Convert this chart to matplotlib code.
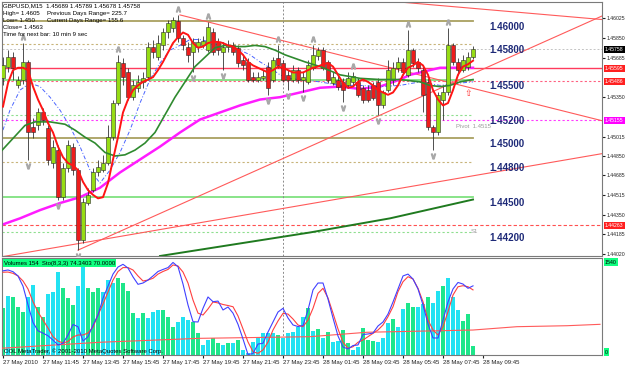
import matplotlib
matplotlib.use("Agg")
import matplotlib.pyplot as plt
import matplotlib.transforms as mtransforms

plt.rcParams['font.family'] = ['Liberation Sans', 'DejaVu Sans']

# ---------------- data ----------------
opens = [1.4551,1.4561,1.4569,1.4545,1.4550,1.4565,1.4510,1.4511,1.4522,1.4509,
         1.4479,1.4490,1.4450,1.4475,1.4493,1.4473,1.4414,1.4445,1.4456,1.4471,
         1.4473,1.4479,1.4501,1.4530,1.4564,1.4556,1.4535,1.4543,1.4548,1.4552,
         1.4578,1.4569,1.4579,1.4590,1.4594,1.4600,1.4585,1.4578,1.4573,1.4578,
         1.4579,1.4575,1.4590,1.4582,1.4573,1.4578,1.4579,1.4577,1.4567,1.4565,
         1.4552,1.4550,1.4551,1.4561,1.4550,1.4568,1.4564,1.4554,1.4550,1.4558,
         1.4550,1.4548,1.4560,1.4570,1.4575,1.4565,1.4547,1.4550,1.4548,1.4545,
         1.4548,1.4548,1.4543,1.4541,1.4545,1.4548,1.4528,1.4541,1.4550,1.4560,
         1.4565,1.4554,1.4575,1.4565,1.4558,1.4548,1.4510,1.4505,1.4533,1.4539,
         1.4579,1.4565,1.4558,1.4561,1.45689]
highs = [1.4569,1.4575,1.4573,1.4553,1.4581,1.4567,1.4517,1.4526,1.4526,1.4511,
         1.4499,1.4494,1.4479,1.4499,1.4496,1.4475,1.4449,1.4458,1.4475,1.4482,
         1.4486,1.4511,1.4533,1.4571,1.4568,1.4560,1.4550,1.4554,1.4556,1.4582,
         1.4584,1.4588,1.4594,1.4601,1.4603,1.4605,1.4588,1.4582,1.4585,1.4585,
         1.4587,1.4599,1.4594,1.4585,1.4582,1.4584,1.4582,1.4579,1.4571,1.4568,
         1.4556,1.4556,1.4558,1.4565,1.4569,1.4579,1.4567,1.4558,1.4562,1.4561,
         1.4556,1.4567,1.4579,1.4578,1.4578,1.4567,1.4556,1.4553,1.4551,1.4556,
         1.4556,1.4551,1.4545,1.4545,1.4548,1.4551,1.4541,1.4567,1.4565,1.4569,
         1.4568,1.4592,1.4577,1.4568,1.4562,1.4551,1.4511,1.4539,1.4545,1.4594,
         1.4581,1.4568,1.4571,1.4573,1.45789]
lows = [1.4545,1.4556,1.4550,1.4543,1.4546,1.4482,1.4500,1.4507,1.4511,1.4477,
        1.4475,1.4448,1.4448,1.4471,1.4469,1.4405,1.4411,1.4443,1.4454,1.4468,
        1.4471,1.4477,1.4499,1.4528,1.4545,1.4533,1.4533,1.4539,1.4543,1.4550,
        1.4568,1.4567,1.4575,1.4585,1.4590,1.4582,1.4575,1.4565,1.4556,1.4573,
        1.4577,1.4573,1.4571,1.4571,1.4558,1.4573,1.4571,1.4561,1.4558,1.4548,
        1.4548,1.4548,1.4550,1.4537,1.4548,1.4560,1.4548,1.4541,1.4548,1.4547,
        1.4539,1.4546,1.4558,1.4567,1.4558,1.4547,1.4545,1.4541,1.4531,1.4543,
        1.4545,1.4535,1.4530,1.4531,1.4533,1.4520,1.4526,1.4539,1.4545,1.4556,
        1.4554,1.4552,1.4561,1.4556,1.4522,1.4507,1.4490,1.4503,1.4516,1.4537,
        1.4562,1.4554,1.4556,1.4558,1.45678]
closes = [1.4562,1.4569,1.4560,1.4550,1.4565,1.4505,1.4505,1.4522,1.4516,1.4482,
          1.4493,1.4450,1.4475,1.4494,1.4473,1.4414,1.4446,1.4452,1.4471,1.4476,
          1.4479,1.4501,1.4530,1.4565,1.4552,1.4535,1.4545,1.4548,1.4551,1.4578,
          1.4573,1.4581,1.4590,1.4598,1.4601,1.4585,1.4579,1.4571,1.4582,1.4582,
          1.4583,1.4595,1.4573,1.4575,1.4578,1.4579,1.4573,1.4564,1.4562,1.4550,
          1.4550,1.4552,1.4553,1.4543,1.4567,1.4562,1.4550,1.4550,1.4558,1.4550,
          1.4552,1.4562,1.4571,1.4575,1.4560,1.4550,1.4552,1.4544,1.4541,1.4551,
          1.4553,1.4537,1.4533,1.4533,1.4534,1.4528,1.4539,1.4558,1.4560,1.4565,
          1.4556,1.4575,1.4564,1.4560,1.4537,1.4510,1.4505,1.4537,1.4539,1.4579,
          1.4565,1.4558,1.4567,1.4569,1.45758]

# fast MA (red), one value per bar
ma_red = [1.4527,1.4547,1.4558,1.4560,1.4560,1.4558,1.4544,1.4533,1.4524,1.4513,
          1.4505,1.4493,1.4484,1.4479,1.4477,1.4473,1.4463,1.4456,1.4452,1.4449,
          1.4450,1.4462,1.4482,1.4501,1.4522,1.4533,1.4541,1.4545,1.4548,1.4550,
          1.4552,1.4558,1.4565,1.4573,1.4581,1.4586,1.4590,1.4588,1.4581,1.4577,
          1.4578,1.4581,1.4582,1.4582,1.4581,1.4579,1.4578,1.4575,1.4571,1.4565,
          1.4562,1.4560,1.4558,1.4556,1.4558,1.4561,1.4560,1.4558,1.4556,1.4556,
          1.4556,1.4558,1.4560,1.4561,1.4563,1.4564,1.4561,1.4554,1.4547,1.4543,
          1.4544,1.4548,1.4550,1.4548,1.4545,1.4541,1.4539,1.4537,1.4539,1.4545,
          1.4554,1.4560,1.4562,1.4565,1.4562,1.4554,1.4541,1.4533,1.4528,1.4530,
          1.4541,1.4554,1.4561,1.4563,1.4566]

ma_green_bars = [-0.6,4.4,6.4,9.4,12.4,14.4,16.4,18.4,20.4,22.4,24.4,26.4,28.4,30.4,
                 32.4,34.4,36.4,38.4,40.4,42.4,44.4,46.4,48.4,50.4,52.4,54.4,56.4,
                 58.4,60.4,63.4,67.4,71.4,75.4,79.4,83.4,85.4,87.4,89.4,91.4,94]
ma_green = [1.4488,1.4511,1.4514,1.4514,1.4512,1.4507,1.4501,1.4496,1.4488,1.4485,
            1.4486,1.4490,1.4496,1.4505,1.4520,1.4535,1.4548,1.4561,1.4569,1.4577,
            1.4579,1.4578,1.4578,1.4579,1.4578,1.4575,1.4571,1.4568,1.4565,1.4561,
            1.4554,1.4551,1.4550,1.4550,1.4548,1.4545,1.4544,1.4545,1.4548,1.4550]

ma_magenta_bars = [-0.6,3.4,7.4,11.4,15.4,19.4,23.4,27.4,31.4,35.4,39.4,43.4,47.4,
                   51.4,55.4,59.4,63.4,67.4,71.4,75.4,77.4,79.4,81.4,83.4,85.4,87.4,
                   91.4,94]
ma_magenta = [1.4426,1.4432,1.4439,1.4445,1.4450,1.4458,1.4471,1.4482,1.4493,1.4505,
              1.4516,1.4522,1.4528,1.4533,1.4535,1.4539,1.4543,1.4544,1.4542,1.4544,
              1.4547,1.4550,1.4554,1.4556,1.4558,1.4560,1.4560,1.4560]

ma_blue_bars = [-0.6,1.4,3.4,5.4,7.4,9.4,11.4,13.4,15.4,17.4,19.4,21.4,23.4,25.4,
                27.4,29.4,31.4,33.4,35.4,37.4,39.4,41.4,43.4,45.4,47.4,49.4,51.4,
                53.4,55.4,57.4,59.4,63.4,67.4,71.4,75.4,79.4,83.4,87.4,91.4,94]
ma_blue = [1.4500,1.4524,1.4541,1.4547,1.4544,1.4535,1.4524,1.4510,1.4493,1.4473,
           1.4462,1.4473,1.4488,1.4507,1.4530,1.4550,1.4564,1.4575,1.4579,1.4584,
           1.4584,1.4582,1.4582,1.4579,1.4575,1.4571,1.4565,1.4560,1.4554,1.4551,
           1.4550,1.4548,1.4545,1.4545,1.4544,1.4545,1.4548,1.4545,1.4547,1.4548]

ma_long_bars = [31.4, 46.4, 61.4, 77.4, 94]
ma_long = [1.4400, 1.4410, 1.4420, 1.4432, 1.4448]

volumes = [775,980,960,800,715,960,1155,800,630,1000,
           1035,1375,1100,935,825,1145,1620,1100,1045,1100,
           1045,1240,1185,1265,1185,1055,690,605,690,605,
           715,745,745,630,465,550,630,580,550,360,
           165,250,275,195,165,195,195,250,80,30,
           220,275,360,360,360,330,275,360,385,465,
           630,770,395,430,285,375,210,230,410,195,
           80,140,440,250,230,210,275,525,595,465,
           760,855,800,800,835,960,855,1055,1130,1265,
           960,745,560,670,154]
vol_up = ("gcgggccggccc" "gggccgggcccggggcgcccgggcccggccggcgcgccccccc"
          "gccccc" "gcgcgccggccgggcccgccggccgccgccc" "gggcg")

vol_ma_bars = [-0.6, 19.4, 39.4, 61.4, 72.8, 94, 102.8, 112.8, 119.4]
vol_ma = [110, 210, 275, 302, 375, 412, 467, 483, 506]

stoch_k = [90.5,91.4,89.6,85,74,54,35,26,23.5,20.7,
           16,10.8,12.6,21.5,32.8,30.4,15,19.7,32,43,
           61,74,87,94.6,97.5,93.5,84,76,77.4,80.6,
           85,89.8,92,94,99.5,94.9,76.3,53.8,35.8,35.5,
           50.2,62.4,57.3,58,48.4,51.6,45,33,17.2,0.5,
           1.6,11.8,12.6,24.7,35.5,46.2,50.2,39.8,32.3,30.6,
           31.7,48.4,70,77.4,77.4,60.2,39.8,20.4,8.6,6.5,
           10.2,10.8,22,22.6,23.6,31.2,35.5,44,57,71,
           85,87,81.7,71,53.8,33.3,18.3,18.3,37.6,57,
           71,78,76.3,71.7,74.34]
stoch_d = [89,89.2,87.8,85,79.6,71,57.3,46.2,37.6,29,
           19.7,15,12.9,14.5,19.4,21.5,21.5,23.7,30,43,
           54.8,67.7,80.6,89.8,94,94,91.4,85,79.6,80.6,
           82.5,87,89.8,92,96.8,95.7,89.2,77.4,59.1,45,
           43,49.5,57,56,54.3,53.2,51.9,42,28,14,
           3.5,1.8,5.4,14,26.9,36.6,44.8,44,38.7,32.3,
           30.4,37.6,50.2,66.3,71.7,61.3,45,28,13.7,7.2,
           8.9,13.7,16.1,19.7,23.3,26.9,32.3,41.2,51.9,68.1,
           78.8,84.2,81.7,71.7,57.3,37.6,26.9,21.5,30.4,46.6,
           64.5,73.4,74.5,73.4,70.0]

fractal_up = [4, 23, 35, 41, 55, 62, 70, 81, 89]
fractal_dn = [5, 11, 15, 38, 44, 53, 57, 60, 68, 75, 86]
signal_bar = [93]
signal_price = [1.4538]

# round-number levels (value, style kind)
levels = [1.4600, 1.4580, 1.4550, 1.4520, 1.4500, 1.4480, 1.4450, 1.4420]
level_kind = ['major', 'minor', 'half', 'quarter', 'major', 'minor', 'half', 'quarter']
level_labels = ['1.46000', '1.45800', '1.45500', '1.45200', '1.45000', '1.44800', '1.44500', '1.44200']

pivot = 1.45155
r_line = 1.45595
r_dot = 1.45486
s1 = 1.44263
bid = 1.45758

trend_lines = [([35.4, 119.8], [1.46049, 1.45150]),
               ([60.0, 119.8], [1.46230, 1.46010]),
               ([15.0, 119.8], [1.44050, 1.46040]),
               ([-0.6, 119.8], [1.43991, 1.44870])]

price_ticks = [1.46025, 1.45850, 1.45685, 1.45515, 1.45350, 1.45185, 1.45015,
               1.44850, 1.44685, 1.44515, 1.44350, 1.44185, 1.44020]
time_tick_bars = [0, 8, 16, 24, 32, 40, 48, 56, 64, 72, 80, 88, 96]
time_tick_labels = ['27 May 2010', '27 May 11:45', '27 May 13:45', '27 May 15:45',
                    '27 May 17:45', '27 May 19:45', '27 May 21:45', '27 May 23:45',
                    '28 May 01:45', '28 May 03:45', '28 May 05:45', '28 May 07:45',
                    '28 May 09:45']
day_separator_bar = 56

info_lines = ["GBPUSD,M15  1.45689 1.45789 1.45678 1.45758",
              "High= 1.4605",
              "Low= 1.450",
              "Close= 1.4563",
              "Time for next bar: 10 min 9 sec"]
info_right = ["", "Previous Days Range= 225.7", "Current Days Range= 155.6", "", ""]

# ---------------- figure ----------------
W, H = 625, 370
fig = plt.figure(figsize=(W / 100, H / 100), dpi=100)
fig.patch.set_facecolor('white')

def fx(px):
    return px / W

def fy(py):
    return 1 - py / H

RIGHT = 602
ax = fig.add_axes([fx(2), fy(256), (RIGHT - 2) / W, (256 - 2) / H])
axl = fig.add_axes([fx(2), fy(355), (RIGHT - 2) / W, (355 - 258) / H])

XMIN, XMAX = -0.2, 119.8
LAST = len(closes) - 1

for a in (ax, axl):
    a.set_facecolor('white')
    a.set_xlim(XMIN, XMAX)
    for s in a.spines.values():
        s.set_color('#7a7a7a')
        s.set_linewidth(0.8)

ax.set_ylim(1.44000, 1.46159)

# horizontal levels
style = {'major': dict(color='#a9a060', lw=1.3, ls='-'),
         'minor': dict(color='#c8b47a', lw=0.8, ls=(0, (2, 2))),
         'half': dict(color='#7fe27f', lw=1.3, ls='-'),
         'quarter': dict(color='#8fdf8f', lw=0.8, ls=(0, (2, 2)))}
for v, kind in zip(levels, level_kind):
    ax.plot([XMIN, LAST], [v, v], zorder=1, **style[kind])

ax.axhline(bid, color='#c4c4c4', lw=0.7, ls=(0, (2, 2)), zorder=1)
ax.axhline(pivot, color='#ff3cff', lw=0.8, ls=(0, (2, 2)), zorder=1)
ax.axhline(r_line, color='#ff3b5c', lw=1.0, ls='-', zorder=1)
ax.axhline(r_dot, color='#ff6080', lw=0.8, ls=(0, (2, 2)), zorder=1)
ax.axhline(s1, color='#ff5050', lw=0.8, ls=(0, (3, 2)), zorder=1)

ax.axvline(day_separator_bar, color='#8a8a8a', lw=0.7, ls=(0, (2, 2)), zorder=1)
axl.axvline(day_separator_bar, color='#8a8a8a', lw=0.7, ls=(0, (2, 2)), zorder=1)

for bx, by in trend_lines:
    ax.plot(bx, by, color='#ff5a5a', lw=0.8, zorder=2)

# moving averages
ax.plot(ma_long_bars, ma_long, color='#1f7a1f', lw=1.4, zorder=2)
ax.plot(ma_magenta_bars, ma_magenta, color='#ff1cff', lw=1.8, zorder=2)
ax.plot(ma_blue_bars, ma_blue, color='#4a64ff', lw=0.7, ls=(0, (4, 2, 1, 2)), zorder=2)
ax.plot(ma_green_bars, ma_green, color='#2f8a2f', lw=1.2, zorder=5)

# candles
for k, (o, h, l, c) in enumerate(zip(opens, highs, lows, closes)):
    up = c >= o
    ax.vlines(k, l, h, color='#333333', lw=0.6, zorder=3)
    lo, hi = min(o, c), max(o, c)
    ax.bar(k, max(hi - lo, 0.00004), bottom=lo, width=0.64,
           color='#96dc14' if up else '#ee1c1c',
           edgecolor='#2a2a2a', linewidth=0.4, zorder=4)

ax.plot(range(len(ma_red)), ma_red, color='#ff1414', lw=1.4, zorder=6)

# fractals
up_tr = mtransforms.offset_copy(ax.transData, fig=fig, y=6, units='dots')
dn_tr = mtransforms.offset_copy(ax.transData, fig=fig, y=-6, units='dots')
ax.plot(fractal_up, [highs[k] for k in fractal_up], ls='none', marker=r'$\wedge$',
        ms=3.6, color='#a8a8a8', transform=up_tr, zorder=7)
ax.plot(fractal_dn, [lows[k] for k in fractal_dn], ls='none', marker=r'$\vee$',
        ms=3.6, color='#a8a8a8', transform=dn_tr, zorder=7)
for b, p in zip(signal_bar, signal_price):
    ax.text(b, p, '\u21e7', color='#ff3030', fontsize=6.5, ha='center', va='center',
            family='DejaVu Sans', zorder=7)

# level labels
lab_tr = mtransforms.offset_copy(ax.transData, fig=fig, y=-6, units='dots')
for v, t in zip(levels, level_labels):
    ax.text(97.2, v, t, transform=lab_tr, fontsize=7, fontweight='bold',
            color='#1e2a78', ha='left', va='center', zorder=8)
ax.text(90.5, pivot, 'Pivot  1.4515', transform=lab_tr, fontsize=4.3,
        color='#9a9a9a', ha='left', va='center')
ax.text(93.5, s1, 'S1', transform=lab_tr, fontsize=4.3, color='#9a9a9a',
        ha='left', va='center')

# price axis (labels hidden where a coloured price box sits)
boxes = [(bid, '#000000'), (r_line, '#ff2020'), (r_dot, '#ff2020'),
         (pivot, '#ff00ff'), (s1, '#ff2020')]
shown_ticks = [t for t in price_ticks if all(abs(t - b) > 0.00045 for b, _ in boxes)]
ax.yaxis.tick_right()
ax.set_yticks(shown_ticks)
ax.set_yticklabels([f"{t:.5f}" for t in shown_ticks])
ax.tick_params(axis='y', labelsize=3.7, length=2, pad=1, colors='#222222')
ax.set_xticks([])

for value, bg in boxes:
    ax.text(1.005, value, f"{value:.5f}", transform=ax.get_yaxis_transform(), fontsize=3.7,
            color='white', ha='left', va='center', zorder=10, clip_on=False,
            bbox=dict(boxstyle='square,pad=0.2', fc=bg, ec='none'))

# ---------------- lower window ----------------
axl.set_ylim(0, 1600)
vcolors = ['#22e2f2' if f == 'c' else '#1ee68a' for f in vol_up]
axl.bar(range(len(volumes)), volumes, width=0.66, color=vcolors, zorder=2)
axl.plot(vol_ma_bars, vol_ma, color='#ff5a5a', lw=0.8, zorder=3)
axl.set_yticks([])
axl.set_xticks(time_tick_bars)
axl.set_xticklabels(time_tick_labels)
for lbl in axl.get_xticklabels():
    lbl.set_horizontalalignment('left')
axl.tick_params(axis='x', labelsize=4.3, length=2, pad=1.5, colors='#222222')

axs = axl.twinx()
axs.set_ylim(0, 104.3)
axs.set_xlim(XMIN, XMAX)
axs.set_yticks([])
for s in axs.spines.values():
    s.set_visible(False)
axs.plot(range(len(stoch_d)), stoch_d, color='#ff4040', lw=0.8)
axs.plot(range(len(stoch_k)), stoch_k, color='#4040ff', lw=0.8)

# ---------------- text ----------------
for i, t in enumerate(info_lines):
    fig.text(fx(3), fy(6 + 7.1 * i), t, fontsize=4.4, color='black', va='center', ha='left')
for i, t in enumerate(info_right):
    if t:
        fig.text(fx(47), fy(6 + 7.1 * i), t, fontsize=4.4, color='black', va='center', ha='left')

fig.text(fx(4), fy(263), "Volumes 154  Sto(8,3,3) 74.3403 70.0000", fontsize=4.3,
         color='black', va='center', ha='left',
         bbox=dict(boxstyle='square,pad=0.2', fc='#10ff80', ec='none'))
fig.text(fx(4), fy(351), "OOL MetaTrader, \u00a9 2001-2010 MetaQuotes Software Corp.",
         fontsize=4.3, color='black', va='center', ha='left')
fig.text(fx(605), fy(262), "1540", fontsize=3.8, color='black', va='center', ha='left',
         bbox=dict(boxstyle='square,pad=0.2', fc='#10ff80', ec='none'))
fig.text(fx(605), fy(352), "0", fontsize=3.8, color='black', va='center', ha='left',
         bbox=dict(boxstyle='square,pad=0.2', fc='#10ff80', ec='none'))

fig.savefig("out.png", dpi=100, facecolor='white')
